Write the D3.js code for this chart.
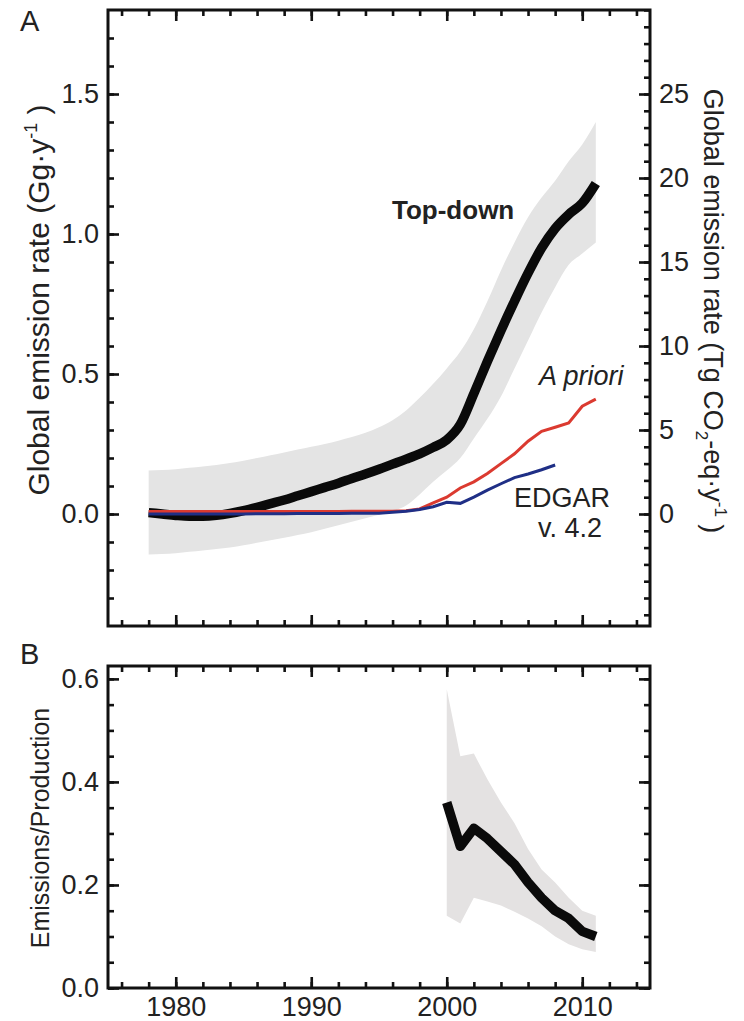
<!DOCTYPE html>
<html>
<head>
<meta charset="utf-8">
<script src="https://cdn.jsdelivr.net/npm/d3@7/dist/d3.min.js"></script>
<style>
  body { margin: 0; background: #fff; }
  svg text { font-family: "Liberation Sans", Arial, sans-serif; fill: #222; }
</style>
</head>
<body>
<svg id="canvas" width="744" height="1021"></svg>
<script>
'use strict';

/* panel A: global emission rate, Gg per year */
const years = [1978, 1979, 1980, 1981, 1982, 1983, 1984, 1985, 1986, 1987, 1988, 1989,
  1990, 1991, 1992, 1993, 1994, 1995, 1996, 1997, 1998, 1999, 2000, 2001, 2002, 2003,
  2004, 2005, 2006, 2007, 2008, 2009, 2010, 2011];
const topDown = [0.005, 0.0, -0.005, -0.008, -0.008, -0.005, 0.002, 0.012, 0.024, 0.037,
  0.05, 0.065, 0.08, 0.095, 0.11, 0.127, 0.143, 0.16, 0.178, 0.196, 0.215, 0.238, 0.265,
  0.32, 0.43, 0.545, 0.655, 0.76, 0.86, 0.95, 1.02, 1.07, 1.11, 1.18];
const topDownHigh = [0.155, 0.157, 0.16, 0.165, 0.17, 0.175, 0.182, 0.19, 0.2, 0.21, 0.22,
  0.23, 0.24, 0.25, 0.262, 0.275, 0.29, 0.31, 0.335, 0.37, 0.415, 0.465, 0.52, 0.58, 0.66,
  0.76, 0.87, 0.97, 1.06, 1.13, 1.19, 1.26, 1.32, 1.40];
const topDownLow = [-0.145, -0.143, -0.14, -0.135, -0.13, -0.125, -0.12, -0.112, -0.103,
  -0.094, -0.085, -0.075, -0.065, -0.053, -0.04, -0.028, -0.015, -0.003, 0.01, 0.03, 0.07,
  0.115, 0.155, 0.2, 0.27, 0.34, 0.42, 0.52, 0.62, 0.72, 0.81, 0.89, 0.93, 0.97];
const aPriori = [0.009, 0.009, 0.009, 0.009, 0.009, 0.009, 0.009, 0.009, 0.009, 0.009,
  0.009, 0.009, 0.009, 0.009, 0.009, 0.01, 0.01, 0.01, 0.01, 0.012, 0.018, 0.04, 0.06,
  0.093, 0.115, 0.145, 0.18, 0.215, 0.26, 0.295, 0.31, 0.325, 0.385, 0.41];
const edgarYears = [1978, 1979, 1980, 1981, 1982, 1983, 1984, 1985, 1986, 1987, 1988, 1989,
  1990, 1991, 1992, 1993, 1994, 1995, 1996, 1997, 1998, 1999, 2000, 2001, 2002, 2003,
  2004, 2005, 2006, 2007, 2008];
const edgar = [0.0, 0.0, 0.0, 0.0, 0.0, 0.0, 0.0, 0.0, 0.001, 0.001, 0.001, 0.002, 0.002,
  0.002, 0.002, 0.003, 0.003, 0.003, 0.006, 0.01, 0.016, 0.026, 0.042, 0.038, 0.06, 0.085,
  0.108, 0.13, 0.143, 0.158, 0.175];

/* panel B: emissions / production */
const ratioYears = [2000, 2001, 2002, 2003, 2004, 2005, 2006, 2007, 2008, 2009, 2010, 2011];
const ratio = [0.36, 0.275, 0.31, 0.29, 0.265, 0.24, 0.205, 0.175, 0.15, 0.135, 0.11, 0.10];
const ratioHigh = [0.58, 0.45, 0.455, 0.405, 0.36, 0.32, 0.27, 0.23, 0.205, 0.175, 0.15, 0.14];
const ratioLow = [0.14, 0.125, 0.175, 0.168, 0.16, 0.148, 0.135, 0.12, 0.1, 0.085, 0.075, 0.07];

/* tick labels */
const xTicks = [1980, 1990, 2000, 2010];
const yTicksA = [0.0, 0.5, 1.0, 1.5];
const yTicksCO2 = [0, 5, 10, 15, 20, 25];
const yTicksB = [0.0, 0.2, 0.4, 0.6];

const svg = d3.select('#canvas');
const left = 108, right = 650;
const panelA = { top: 10, bottom: 626 };
const panelB = { top: 666, bottom: 988 };

let x = d3.scaleLinear().domain([1975, 2015]).range([left, right]);
let yA = d3.scaleLinear().domain([-0.4, 1.8]).range([panelA.bottom, panelA.top]);
// right axis of panel A: same range, converted to Tg CO2-eq (1.5 Gg <-> 25 Tg)
let yCO2 = d3.scaleLinear().domain([-0.4 * 50 / 3, 1.8 * 50 / 3]).range([panelA.bottom, panelA.top]);
let yB = d3.scaleLinear().domain([0, 0.625]).range([panelB.bottom, panelB.top]);

/**
 * draw inward major/minor ticks on one side of a panel
 */
function ticks(orient, pos, scale, major, minor, fmt){
  let axisFn = { left: d3.axisLeft, right: d3.axisRight, top: d3.axisTop, bottom: d3.axisBottom }[orient];
  let tr = (orient === 'left' || orient === 'right') ? 'translate(' + pos + ',0)' : 'translate(0,' + pos + ')';
  let gMinor = svg.append('g').attr('transform', tr)
    .call(axisFn(scale).tickValues(minor).tickSize(-6).tickFormat(''));
  let gMajor = svg.append('g').attr('transform', tr)
    .call(axisFn(scale).tickValues(major).tickSize(-11).tickPadding(9).tickFormat(fmt));
  [gMinor, gMajor].forEach(g => {
    g.select('.domain').remove();
    g.selectAll('line').attr('stroke', '#111').attr('stroke-width', 2.6);
    g.selectAll('text').style('font-size', '27px').attr('fill', '#222');
  });
  return gMajor;
}

/* ---------- panel A ---------- */
let band = d3.area()
  .x((d, i) => x(years[i]))
  .y0((d, i) => yA(topDownLow[i]))
  .y1((d, i) => yA(topDownHigh[i]))
  .curve(d3.curveMonotoneX);
svg.append('path').datum(years).attr('d', band).attr('fill', '#e4e4e4');

let lineA = d3.line().x(d => x(d[0])).y(d => yA(d[1]));
svg.append('path')
  .datum(years.map((yr, i) => [yr, topDown[i]]))
  .attr('d', lineA.curve(d3.curveMonotoneX))
  .attr('fill', 'none').attr('stroke', '#0a0a0a').attr('stroke-width', 9.5);
svg.append('path')
  .datum(years.map((yr, i) => [yr, aPriori[i]]))
  .attr('d', lineA.curve(d3.curveLinear))
  .attr('fill', 'none').attr('stroke', '#db3a30').attr('stroke-width', 3);
svg.append('path')
  .datum(edgarYears.map((yr, i) => [yr, edgar[i]]))
  .attr('d', lineA.curve(d3.curveLinear))
  .attr('fill', 'none').attr('stroke', '#1f2f86').attr('stroke-width', 3);

svg.append('text').attr('x', 392).attr('y', 219)
  .style('font-size', '26px').style('font-weight', 'bold').attr('fill', '#111').text('Top-down');
svg.append('text').attr('x', 539).attr('y', 385)
  .style('font-size', '27px').style('font-style', 'italic').attr('fill', '#d8412f').text('A priori');
svg.append('text').attr('x', 562).attr('y', 507).attr('text-anchor', 'middle')
  .style('font-size', '27px').attr('fill', '#253a8c').text('EDGAR');
svg.append('text').attr('x', 570).attr('y', 537).attr('text-anchor', 'middle')
  .style('font-size', '27px').attr('fill', '#253a8c').text('v. 4.2');

svg.append('rect').attr('x', left).attr('y', panelA.top)
  .attr('width', right - left).attr('height', panelA.bottom - panelA.top)
  .attr('fill', 'none').attr('stroke', '#111').attr('stroke-width', 3);

let minorX = d3.range(1976, 2015, 2);
ticks('top', panelA.top, x, xTicks, minorX, '');
ticks('bottom', panelA.bottom, x, xTicks, minorX, '');
ticks('left', left, yA, yTicksA, d3.range(-3, 18).map(v => v / 10), d3.format('.1f'));
ticks('right', right, yCO2, yTicksCO2, d3.range(-6, 31), d3.format('d'));

svg.append('text').attr('x', 20).attr('y', 31).style('font-size', '29px').attr('fill', '#111').text('A');

let titleA = svg.append('text')
  .attr('transform', 'translate(49,300) rotate(-90)')
  .attr('text-anchor', 'middle').style('font-size', '30px');
titleA.append('tspan').text('Global emission rate (Gg·y');
titleA.append('tspan').attr('dy', -12).style('font-size', '18px').text('-1');
titleA.append('tspan').attr('dy', 12).text(' )');

let titleCO2 = svg.append('text')
  .attr('transform', 'translate(704,311) rotate(90)')
  .attr('text-anchor', 'middle').style('font-size', '27px');
titleCO2.append('tspan').text('Global emission rate (Tg CO');
titleCO2.append('tspan').attr('dy', 8).style('font-size', '17px').text('2');
titleCO2.append('tspan').attr('dy', -8).text('-eq·y');
titleCO2.append('tspan').attr('dy', -11).style('font-size', '17px').text('-1');
titleCO2.append('tspan').attr('dy', 11).text(' )');

/* ---------- panel B ---------- */
let bandB = d3.area()
  .x((d, i) => x(ratioYears[i]))
  .y0((d, i) => yB(ratioLow[i]))
  .y1((d, i) => yB(ratioHigh[i]));
svg.append('path').datum(ratioYears).attr('d', bandB).attr('fill', '#e4e2e2');

svg.append('path')
  .datum(ratioYears.map((yr, i) => [yr, ratio[i]]))
  .attr('d', d3.line().x(d => x(d[0])).y(d => yB(d[1])))
  .attr('fill', 'none').attr('stroke', '#0a0a0a').attr('stroke-width', 9.5)
  .attr('stroke-linejoin', 'round');

svg.append('rect').attr('x', left).attr('y', panelB.top)
  .attr('width', right - left).attr('height', panelB.bottom - panelB.top)
  .attr('fill', 'none').attr('stroke', '#111').attr('stroke-width', 3);

ticks('top', panelB.top, x, xTicks, minorX, '');
ticks('bottom', panelB.bottom, x, xTicks, minorX, d3.format('d'));
let minorB = d3.range(0, 13).map(v => v * 0.05);
ticks('left', left, yB, yTicksB, minorB, d3.format('.1f'));
ticks('right', right, yB, yTicksB, minorB, '');

svg.append('text').attr('x', 20).attr('y', 664).style('font-size', '29px').attr('fill', '#111').text('B');

svg.append('text')
  .attr('transform', 'translate(49,828) rotate(-90)')
  .attr('text-anchor', 'middle').style('font-size', '25px')
  .text('Emissions/Production');
</script>
</body>
</html>
